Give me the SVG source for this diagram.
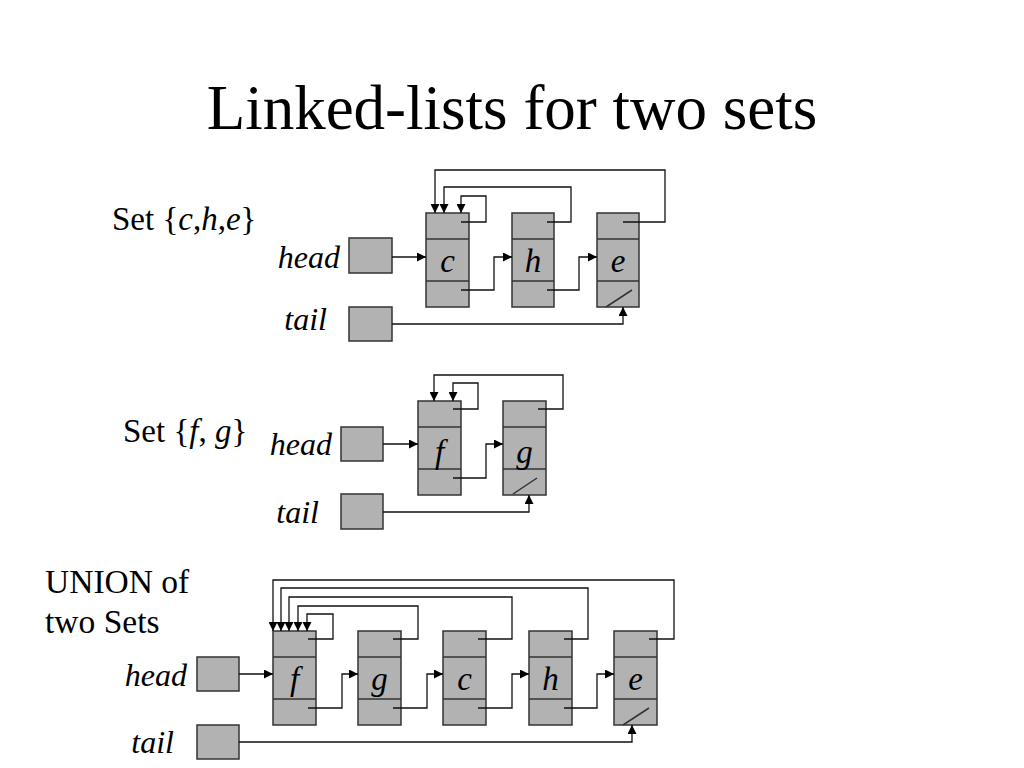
<svg xmlns="http://www.w3.org/2000/svg" width="1024" height="768" viewBox="0 0 1024 768">
<style>
.box{fill:#b2b2b2;stroke:#333;stroke-width:1.5}
.div{stroke:#333;stroke-width:1.5}
.c{fill:none;stroke:#111;stroke-width:1.3}
.a{marker-end:url(#ah)}
</style>
<defs>
<marker id="ah" viewBox="0 0 10 10" refX="10" refY="5" markerWidth="9" markerHeight="9" markerUnits="userSpaceOnUse" orient="auto">
<path d="M0,0 L10,5 L0,10 z" fill="#000"/>
</marker>
</defs>
<rect width="1024" height="768" fill="#fff"/>
<text font-family="Liberation Serif, serif" x="512" y="129" font-size="63" text-anchor="middle">Linked-lists for two sets</text>

<!-- Set 1 labels -->
<text font-family="Liberation Serif, serif" x="112" y="230" font-size="33">Set {<tspan font-style="italic">c</tspan>,<tspan font-style="italic">h</tspan>,<tspan font-style="italic">e</tspan>}</text>
<text font-family="Liberation Serif, serif" font-style="italic" x="340" y="268" font-size="32" text-anchor="end">head</text>
<text font-family="Liberation Serif, serif" font-style="italic" x="327" y="330" font-size="32" text-anchor="end">tail</text>

<g id="s1-head"><rect class="box" x="349" y="238" width="43" height="35"/></g>
<g id="s1-tail"><rect class="box" x="349" y="307" width="43" height="34"/></g>
<g id="s1-c"><rect class="box" x="426" y="213" width="43" height="94"/><line class="div" x1="426" y1="239" x2="469" y2="239"/><line class="div" x1="426" y1="281" x2="469" y2="281"/><text font-family="Liberation Serif, serif" font-style="italic" x="447.5" y="272" font-size="33" text-anchor="middle">c</text></g>
<g id="s1-h"><rect class="box" x="512" y="213" width="42" height="94"/><line class="div" x1="512" y1="239" x2="554" y2="239"/><line class="div" x1="512" y1="281" x2="554" y2="281"/><text font-family="Liberation Serif, serif" font-style="italic" x="533" y="272" font-size="33" text-anchor="middle">h</text></g>
<g id="s1-e"><rect class="box" x="597" y="213" width="42" height="94"/><line class="div" x1="597" y1="239" x2="639" y2="239"/><line class="div" x1="597" y1="281" x2="639" y2="281"/><line class="div" x1="606" y1="307" x2="632" y2="290"/><text font-family="Liberation Serif, serif" font-style="italic" x="618" y="272" font-size="33" text-anchor="middle">e</text></g>

<!-- Set 2 labels -->
<text font-family="Liberation Serif, serif" x="123" y="442" font-size="33">Set {<tspan font-style="italic">f</tspan>, <tspan font-style="italic">g</tspan>}</text>
<text font-family="Liberation Serif, serif" font-style="italic" x="332" y="455" font-size="32" text-anchor="end">head</text>
<text font-family="Liberation Serif, serif" font-style="italic" x="319" y="523" font-size="32" text-anchor="end">tail</text>

<g id="s2-head"><rect class="box" x="341" y="427" width="42" height="34"/></g>
<g id="s2-tail"><rect class="box" x="341" y="494" width="42" height="35"/></g>
<g id="s2-f"><rect class="box" x="418" y="401" width="43" height="94"/><line class="div" x1="418" y1="427" x2="461" y2="427"/><line class="div" x1="418" y1="469" x2="461" y2="469"/><text font-family="Liberation Serif, serif" font-style="italic" x="439.5" y="463" font-size="33" text-anchor="middle">f</text></g>
<g id="s2-g"><rect class="box" x="503" y="401" width="43" height="94"/><line class="div" x1="503" y1="427" x2="546" y2="427"/><line class="div" x1="503" y1="469" x2="546" y2="469"/><line class="div" x1="513" y1="494" x2="537" y2="478"/><text font-family="Liberation Serif, serif" font-style="italic" x="524.5" y="463" font-size="33" text-anchor="middle">g</text></g>

<!-- Union labels -->
<text font-family="Liberation Serif, serif" x="45" y="593" font-size="33.5">UNION of</text>
<text font-family="Liberation Serif, serif" x="45" y="633" font-size="33.5">two Sets</text>
<text font-family="Liberation Serif, serif" font-style="italic" x="187" y="686" font-size="32" text-anchor="end">head</text>
<text font-family="Liberation Serif, serif" font-style="italic" x="174" y="753" font-size="32" text-anchor="end">tail</text>

<g id="u-head"><rect class="box" x="197" y="657" width="42" height="34"/></g>
<g id="u-tail"><rect class="box" x="197" y="725" width="42" height="34"/></g>
<g id="u-f"><rect class="box" x="273" y="631" width="43" height="94"/><line class="div" x1="273" y1="657" x2="316" y2="657"/><line class="div" x1="273" y1="699" x2="316" y2="699"/><text font-family="Liberation Serif, serif" font-style="italic" x="294.5" y="690" font-size="33" text-anchor="middle">f</text></g>
<g id="u-g"><rect class="box" x="358" y="631" width="43" height="94"/><line class="div" x1="358" y1="657" x2="401" y2="657"/><line class="div" x1="358" y1="699" x2="401" y2="699"/><text font-family="Liberation Serif, serif" font-style="italic" x="379.5" y="690" font-size="33" text-anchor="middle">g</text></g>
<g id="u-c"><rect class="box" x="443" y="631" width="43" height="94"/><line class="div" x1="443" y1="657" x2="486" y2="657"/><line class="div" x1="443" y1="699" x2="486" y2="699"/><text font-family="Liberation Serif, serif" font-style="italic" x="464.5" y="690" font-size="33" text-anchor="middle">c</text></g>
<g id="u-h"><rect class="box" x="529" y="631" width="43" height="94"/><line class="div" x1="529" y1="657" x2="572" y2="657"/><line class="div" x1="529" y1="699" x2="572" y2="699"/><text font-family="Liberation Serif, serif" font-style="italic" x="550.5" y="690" font-size="33" text-anchor="middle">h</text></g>
<g id="u-e"><rect class="box" x="614" y="631" width="43" height="94"/><line class="div" x1="614" y1="657" x2="657" y2="657"/><line class="div" x1="614" y1="699" x2="657" y2="699"/><line class="div" x1="623" y1="725" x2="649" y2="708"/><text font-family="Liberation Serif, serif" font-style="italic" x="635.5" y="690" font-size="33" text-anchor="middle">e</text></g>

<g id="connectors">
<!-- set 1 -->
<path class="c a" d="M392,257 H426"/>
<path class="c a" d="M461,290 H494 V257 H512"/>
<path class="c a" d="M547,290 H579 V257 H597"/>
<path class="c a" d="M461,222 H486 V196 H461 V213"/>
<path class="c a" d="M547,222 H571 V187 H444 V213"/>
<path class="c a" d="M623,222 H665 V170 H435 V213"/>
<path class="c a" d="M392,324 H623 V307"/>
<!-- set 2 -->
<path class="c a" d="M383,444 H418"/>
<path class="c a" d="M453,478 H486 V444 H503"/>
<path class="c a" d="M453,409 H478 V383 H453 V401"/>
<path class="c a" d="M538,409 H563 V375 H434 V401"/>
<path class="c a" d="M383,512 H529 V495"/>
<!-- union -->
<path class="c a" d="M239,674 H273"/>
<path class="c a" d="M308,708 H342 V674 H358"/>
<path class="c a" d="M393,708 H427 V674 H443"/>
<path class="c a" d="M478,708 H512 V674 H529"/>
<path class="c a" d="M564,708 H597 V674 H614"/>
<path class="c a" d="M308,639 H333 V614 H307 V631"/>
<path class="c a" d="M393,639 H418 V606 H298 V631"/>
<path class="c a" d="M478,639 H512 V597 H289 V631"/>
<path class="c a" d="M564,639 H588 V588 H281 V631"/>
<path class="c a" d="M649,639 H674 V580 H273 V631"/>
<path class="c a" d="M239,742 H632 V725"/>
</g>
</svg>
